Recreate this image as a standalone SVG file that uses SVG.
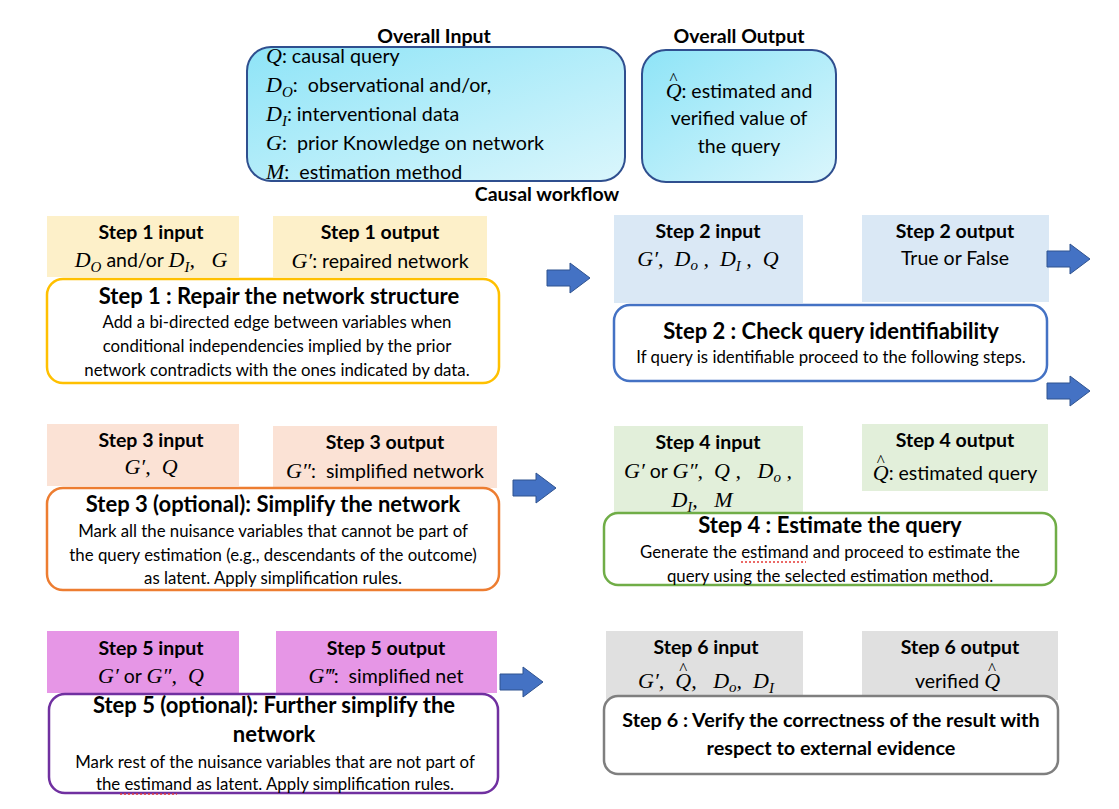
<svg xmlns="http://www.w3.org/2000/svg" width="1119" height="809" viewBox="0 0 1119 809">
<style>
text{font-family:Lato,"Open Sans","Liberation Sans",sans-serif;fill:#000;white-space:pre}
.h{font-weight:bold;font-size:19.5px;text-anchor:middle}
.t{font-size:19.5px;text-anchor:middle}
.tt{font-weight:bold;font-size:22px;text-anchor:middle}
.t6{font-weight:bold;font-size:19.8px;text-anchor:middle}
.b{font-size:16.8px;text-anchor:middle}
.m{font-family:"Liberation Serif","Times New Roman",serif;font-style:italic;font-size:22px}
.s{font-size:15px}
.n{font-family:Lato,"Open Sans",sans-serif;font-style:normal;font-size:19.5px}
.hat{font-family:"Liberation Serif",serif;font-style:normal;font-size:17px}
.ov{font-size:19.7px}
.box{fill:#fff;stroke-width:2.5}
.arr{fill:#4472c4;stroke:#2f528f;stroke-width:1}
</style>
<defs>
<linearGradient id="cy" x1="0" y1="0" x2="1" y2="1">
<stop offset="0" stop-color="#8ee4f7"/>
<stop offset="1" stop-color="#daf6fc"/>
</linearGradient>
<path id="ar" d="M0,-8 H23 V-15 L43,0 L23,15 V8 H0 Z"/>
</defs>

<g id="overall-input">
<text x="434" y="43" class="h">Overall Input</text>
<rect x="247" y="47" width="378" height="134" rx="24" fill="url(#cy)" stroke="#2f4f8f" stroke-width="2"/>
<text x="266" y="63" class="ov"><tspan class="m">Q</tspan>: causal query</text>
<text x="266" y="92" class="ov"><tspan class="m">D</tspan><tspan class="m s" dy="5">O</tspan><tspan dy="-5">:  observational and/or,</tspan></text>
<text x="266" y="121" class="ov"><tspan class="m">D</tspan><tspan class="m s" dy="5">I</tspan><tspan dy="-5">: interventional data</tspan></text>
<text x="266" y="150" class="ov"><tspan class="m">G</tspan>:  prior Knowledge on network</text>
<text x="266" y="179" class="ov"><tspan class="m">M</tspan>:  estimation method</text>
</g>

<g id="overall-output">
<text x="739" y="43" class="h">Overall Output</text>
<rect x="642" y="50" width="194" height="132" rx="24" fill="url(#cy)" stroke="#2f4f8f" stroke-width="2"/>
<text x="739" y="98" class="t"><tspan class="m">Q</tspan><tspan class="hat" dx="-12" dy="-14">^</tspan><tspan dx="4" dy="14">: estimated and</tspan></text>
<text x="739" y="125" class="t">verified value of</text>
<text x="739" y="153" class="t">the query</text>
</g>

<text x="547" y="201" class="h">Causal workflow</text>

<g id="step1">
<rect x="47" y="216" width="192" height="61" fill="#fdf0c9"/>
<text x="151" y="239" class="h">Step 1 input</text>
<text x="151" y="267" class="t"><tspan class="m">D</tspan><tspan class="m s" dy="5">O</tspan><tspan dy="-5"> and/or </tspan><tspan class="m">D</tspan><tspan class="m s" dy="5">I</tspan><tspan dy="-5" class="m">,   G</tspan></text>
<rect x="273" y="216" width="214" height="61" fill="#fdf0c9"/>
<text x="380" y="239" class="h">Step 1 output</text>
<text x="380" y="268" class="t"><tspan class="m">G′</tspan>: repaired network</text>
<rect x="47" y="279" width="452" height="104" rx="16" class="box" stroke="#ffc000"/>
<text x="279" y="304" class="tt">Step 1 : Repair the network structure</text>
<text x="277" y="328" class="b">Add a bi-directed edge between variables when</text>
<text x="277" y="352" class="b">conditional independencies implied by the prior</text>
<text x="277" y="376" class="b">network contradicts with the ones indicated by data.</text>
</g>

<g id="step2">
<rect x="614" y="215" width="189" height="88" fill="#dae8f5"/>
<text x="708" y="238" class="h">Step 2 input</text>
<text x="708" y="266" class="t m">G′,  D<tspan class="s" dy="4">o</tspan><tspan dy="-4"> ,  D</tspan><tspan class="s" dy="5">I</tspan><tspan dy="-5"> ,  Q</tspan></text>
<rect x="862" y="215" width="187" height="87" fill="#dae8f5"/>
<text x="955" y="238" class="h">Step 2 output</text>
<text x="955" y="265" class="t">True or False</text>
<rect x="614" y="305" width="433" height="76" rx="16" class="box" stroke="#4472c4"/>
<text x="831" y="339" class="tt">Step 2 : Check query identifiability</text>
<text x="831" y="363" class="b">If query is identifiable proceed to the following steps.</text>
</g>

<g id="step3">
<rect x="47" y="424" width="192" height="62" fill="#fbe2d5"/>
<text x="151" y="447" class="h">Step 3 input</text>
<text x="151" y="474" class="t m">G′,  Q</text>
<rect x="273" y="426" width="224" height="62" fill="#fbe2d5"/>
<text x="385" y="449" class="h">Step 3 output</text>
<text x="385" y="478" class="t"><tspan class="m">G″</tspan>:  simplified network</text>
<rect x="47" y="488" width="452" height="102" rx="16" class="box" stroke="#ed7d31"/>
<text x="273" y="512" class="tt">Step 3 (optional): Simplify the network</text>
<text x="273" y="537" class="b">Mark all the nuisance variables that cannot be part of</text>
<text x="273" y="561" class="b">the query estimation (e.g., descendants of the outcome)</text>
<text x="273" y="584" class="b">as latent. Apply simplification rules.</text>
</g>

<g id="step4">
<rect x="614" y="426" width="189" height="87" fill="#e2efda"/>
<text x="708" y="449" class="h">Step 4 input</text>
<text x="708" y="478" class="t m">G′<tspan class="n"> or </tspan>G″,  Q ,   D<tspan class="s" dy="4">o</tspan><tspan dy="-4"> ,</tspan></text>
<text x="702" y="507" class="t m">D<tspan class="s" dy="5">I</tspan><tspan dy="-5">,   M</tspan></text>
<rect x="862" y="424" width="186" height="67" fill="#e2efda"/>
<text x="955" y="447" class="h">Step 4 output</text>
<text x="955" y="480" class="t"><tspan class="m">Q</tspan><tspan class="hat" dx="-12" dy="-14">^</tspan><tspan dx="4" dy="14">: estimated query</tspan></text>
<rect x="604" y="513" width="452" height="72" rx="14" class="box" stroke="#70ad47"/>
<text x="830" y="533" class="tt">Step 4 : Estimate the query</text>
<text x="830" y="558" class="b">Generate the estimand and proceed to estimate the</text>
<text x="830" y="582" class="b">query using the selected estimation method.</text>
<line x1="741" y1="562" x2="806" y2="562" stroke="#e53935" stroke-width="1.5" stroke-dasharray="2,2"/>
</g>

<g id="step5">
<rect x="47" y="631" width="192" height="62" fill="#e696e6"/>
<text x="151" y="655" class="h">Step 5 input</text>
<text x="151" y="683" class="t m">G′<tspan class="n"> or </tspan>G″,  Q</text>
<rect x="276" y="631" width="221" height="62" fill="#e696e6"/>
<text x="386" y="655" class="h">Step 5 output</text>
<text x="386" y="683" class="t"><tspan class="m">G‴</tspan>:  simplified net</text>
<rect x="49" y="694" width="449" height="99" rx="16" class="box" stroke="#7030a0"/>
<text x="274" y="713" class="tt">Step 5 (optional): Further simplify the</text>
<text x="274" y="742" class="tt">network</text>
<text x="275" y="768" class="b">Mark rest of the nuisance variables that are not part of</text>
<text x="275" y="790" class="b">the estimand as latent. Apply simplification rules.</text>
<line x1="120" y1="794" x2="177" y2="794" stroke="#e53935" stroke-width="1.5" stroke-dasharray="2,2"/>
</g>

<g id="step6">
<rect x="606" y="631" width="197" height="69" fill="#e0e0e0"/>
<text x="706" y="654" class="h">Step 6 input</text>
<text x="706" y="688" class="t m">G′,  Q<tspan class="hat" dx="-12" dy="-14">^</tspan><tspan dx="4" dy="14">,   D</tspan><tspan class="s" dy="4">o</tspan><tspan dy="-4">,  D</tspan><tspan class="s" dy="5">I</tspan></text>
<rect x="862" y="631" width="196" height="69" fill="#e0e0e0"/>
<text x="960" y="654" class="h">Step 6 output</text>
<text x="960" y="688" class="t">verified <tspan class="m">Q</tspan><tspan class="hat" dx="-12" dy="-14">^</tspan><tspan dx="4" dy="14"> </tspan></text>
<rect x="604" y="696" width="454" height="78" rx="14" class="box" stroke="#7f7f7f"/>
<text x="831" y="727" class="t6">Step 6 : Verify the correctness of the result with</text>
<text x="831" y="755" class="t6">respect to external evidence</text>
</g>

<g id="connectors">
<use href="#ar" x="547" y="278" class="arr"/>
<use href="#ar" x="1047" y="259" class="arr"/>
<use href="#ar" x="1047" y="391" class="arr"/>
<use href="#ar" x="513" y="488" class="arr"/>
<use href="#ar" x="500" y="682" class="arr"/>
</g>
</svg>
